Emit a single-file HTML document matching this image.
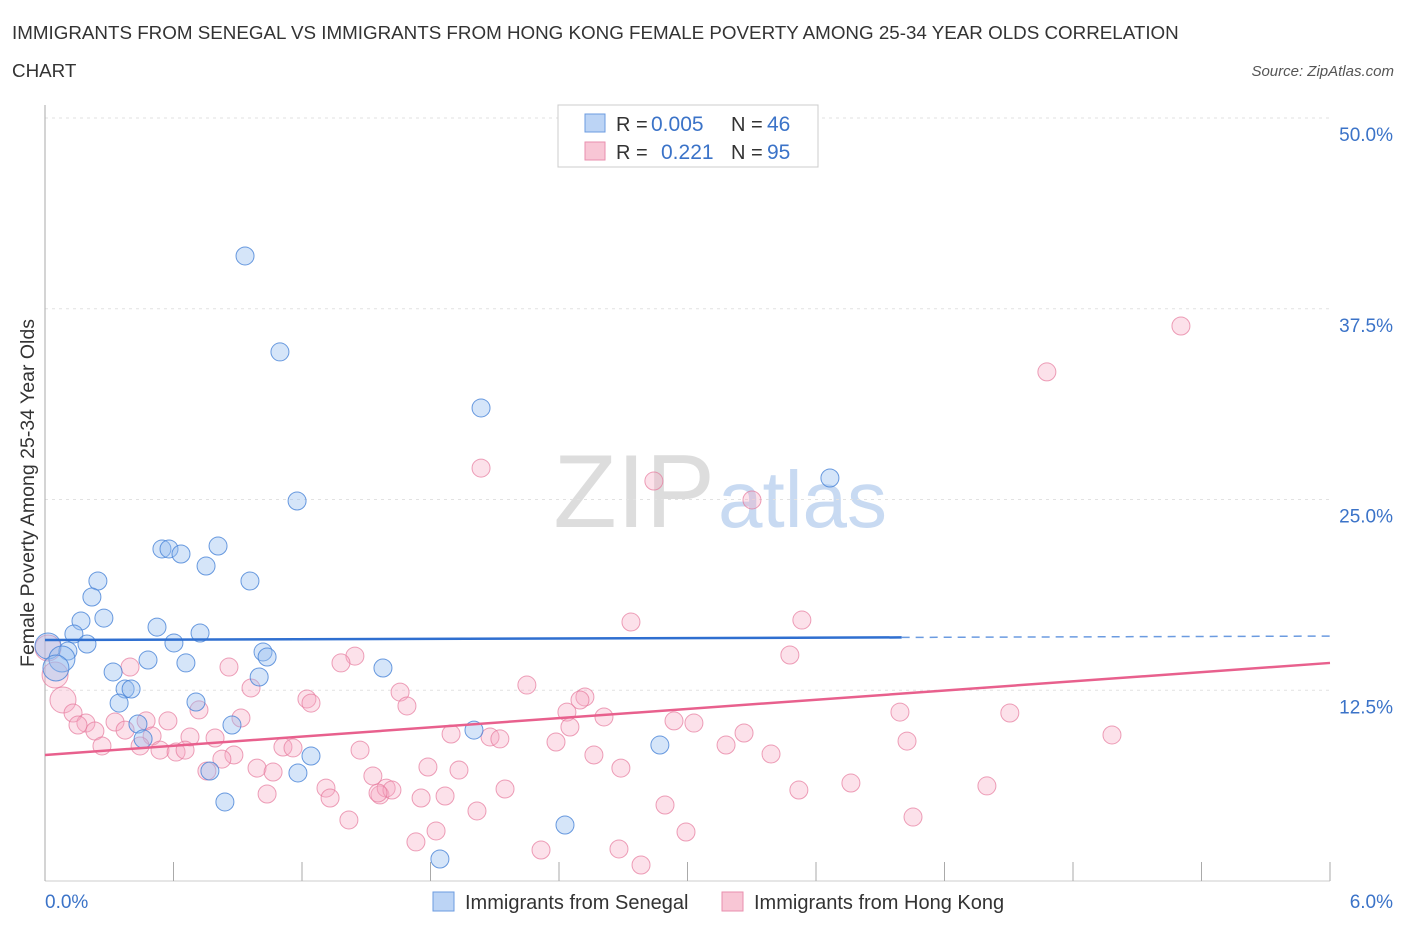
<!DOCTYPE html>
<html><head><meta charset="utf-8"><style>
body{margin:0;background:#fff;font-family:"Liberation Sans",sans-serif;}
svg text{font-family:"Liberation Sans",sans-serif;}
</style></head><body>
<svg id="chart" width="1406" height="930">
<text x="12" y="39" font-size="18.8" fill="#333">IMMIGRANTS FROM SENEGAL VS IMMIGRANTS FROM HONG KONG FEMALE POVERTY AMONG 25-34 YEAR OLDS CORRELATION</text>
<text x="12" y="77" font-size="18.8" fill="#333">CHART</text>
<text x="1394" y="76" font-size="15" fill="#555" text-anchor="end" font-style="italic">Source: ZipAtlas.com</text>
<text x="715" y="527" font-size="104" fill="#ddd" text-anchor="end" font-family="Liberation Serif">ZIP</text>
<text x="718" y="527" font-size="80" fill="#c8daf2">atlas</text>
<g id="grid"></g>
<g id="axes"></g>
<g id="pts"></g>
<g id="trend"></g>
<text transform="translate(34,493) rotate(-90)" font-size="19.5" fill="#333" text-anchor="middle">Female Poverty Among 25-34 Year Olds</text>
<text x="45" y="908" font-size="19" fill="#3b73c8">0.0%</text>
<text x="1393" y="908" font-size="19" fill="#3b73c8" text-anchor="end">6.0%</text>
<g>
<rect x="558" y="105" width="260" height="62" fill="#fff" stroke="#ccc"/>
<rect x="585" y="114" width="20" height="18" fill="#bcd4f5" stroke="#6b9be0"/>
<rect x="585" y="142" width="20" height="18" fill="#f8c6d5" stroke="#e98fae"/>
<text x="616" y="131" font-size="20" fill="#333">R =</text>
<text x="651" y="131" font-size="21" fill="#3b73c8">0.005</text>
<text x="731" y="131" font-size="20" fill="#333">N =</text>
<text x="767" y="131" font-size="21" fill="#3b73c8">46</text>
<text x="616" y="159" font-size="20" fill="#333">R =</text>
<text x="661" y="159" font-size="21" fill="#3b73c8">0.221</text>
<text x="731" y="159" font-size="20" fill="#333">N =</text>
<text x="767" y="159" font-size="21" fill="#3b73c8">95</text>
</g>
<g>
<rect x="433" y="892" width="21" height="19" fill="#bcd4f5" stroke="#6b9be0"/>
<text x="465" y="909" font-size="20" fill="#333">Immigrants from Senegal</text>
<rect x="722" y="892" width="21" height="19" fill="#f8c6d5" stroke="#e98fae"/>
<text x="754" y="909" font-size="20" fill="#333">Immigrants from Hong Kong</text>
</g>
</svg>
<script>
const yTicks=[12.5,25,37.5,50];
const yTickLabels=["12.5%","25.0%","37.5%","50.0%"];
const xTicks=[0,0.6,1.2,1.8,2.4,3,3.6,4.2,4.8,5.4,6];
const senX=[0.934,1.097,2.036,3.665,1.177,0.546,0.579,0.635,0.808,0.752,0.957,0.247,0.219,0.168,0.275,0.523,0.135,0.724,0.196,0.602,0.014,0.107,1.018,1.037,0.079,0.481,0.658,1.578,0.051,0.318,1.0,0.374,0.402,0.346,0.705,0.434,0.873,2.003,0.458,2.871,1.242,0.770,1.181,0.840,2.428,1.844];
const senY=[40.96,34.67,31.0,26.41,24.9,21.76,21.76,21.43,21.95,20.64,19.66,19.66,18.61,17.04,17.23,16.64,16.19,16.25,15.53,15.6,15.4,15.07,15.01,14.68,14.55,14.48,14.29,13.96,13.96,13.7,13.37,12.58,12.58,11.66,11.73,10.29,10.22,9.89,9.31,8.91,8.19,7.21,7.08,5.18,3.67,1.44];
const hkX=[5.304,4.678,2.036,2.843,3.301,2.736,3.534,3.478,1.447,1.382,0.397,0.859,0.047,0.962,2.25,1.658,1.223,1.242,2.521,2.498,1.69,0.084,0.131,0.719,2.437,2.61,3.992,4.505,0.191,0.154,0.327,0.472,0.574,0.915,2.937,3.03,0.233,0.374,0.5,0.677,0.794,1.896,2.078,2.124,2.451,3.264,4.025,4.982,0.266,0.444,0.537,0.612,0.654,0.882,1.111,1.158,1.471,2.386,3.18,2.563,3.39,0.826,0.756,0.99,1.065,1.788,1.933,2.689,1.531,1.312,1.037,1.331,1.564,1.593,1.62,1.555,1.756,1.868,2.148,3.52,3.763,4.398,1.419,2.017,2.895,4.053,1.826,2.993,1.732,2.316,2.68,2.783,0.014];
const hkY=[36.37,33.36,27.06,26.21,24.97,16.97,17.1,14.81,14.74,14.29,14.02,14.02,13.5,12.65,12.84,12.38,11.93,11.66,12.06,11.86,11.47,11.86,11.01,11.21,11.07,10.75,11.07,11.01,10.35,10.22,10.42,10.49,10.49,10.68,10.49,10.35,9.83,9.89,9.5,9.44,9.37,9.63,9.44,9.31,10.09,9.7,9.17,9.57,8.85,8.85,8.58,8.45,8.58,8.26,8.78,8.72,8.58,9.11,8.91,8.26,8.32,7.99,7.21,7.4,7.14,7.47,7.27,7.4,6.88,6.09,5.7,5.44,5.64,6.09,5.96,5.77,5.44,5.57,6.03,5.96,6.42,6.23,4.0,4.59,4.98,4.19,3.28,3.21,2.56,2.03,2.1,1.05,15.27];
const senTrend=[15.79,16.05];
const hkTrend=[8.26,14.29];
const NS="http://www.w3.org/2000/svg";
const X=v=>45+v/6*1285, Y=v=>881-v/50*763;
function mk(tag,attrs,parent){const e=document.createElementNS(NS,tag);for(const k in attrs)e.setAttribute(k,attrs[k]);document.getElementById(parent).appendChild(e);return e;}
yTicks.forEach((t,i)=>{
 const g=mk('line',{x1:45,x2:1330,y1:Y(t),y2:Y(t),stroke:'#e2e2e2','stroke-dasharray':'3,4'},'grid');
 
 
 const tx=mk('text',{x:1393,y:Y(t)+23,'font-size':19,fill:'#3b73c8','text-anchor':'end'},'grid');
 tx.textContent=yTickLabels[i];
 
 
});
const ax=mk('line',{x1:45,x2:45,y1:105,y2:881,stroke:'#aaa'},'axes');


const bx=mk('line',{x1:45,x2:1330,y1:881,y2:881,stroke:'#ccc'},'axes');


xTicks.forEach(t=>{
 const l=mk('line',{x1:X(t),x2:X(t),y1:862,y2:881,stroke:'#aaa'},'axes');
 
 
});
function dots(xs,ys,fill,stroke,name){
 xs.forEach((x,i)=>{
  const big=x<0.1;
  const c=mk('circle',{cx:X(x),cy:Y(ys[i]),r:big?13:9,fill:fill,stroke:stroke,'stroke-width':1},'pts');
  
  
 });
}
dots(hkX,hkY,'rgba(246,170,195,0.35)','rgba(230,120,155,0.7)','hongkong-point');
dots(senX,senY,'rgba(150,190,240,0.4)','rgba(70,130,215,0.8)','senegal-point');
const s1=mk('line',{x1:X(0),y1:Y(senTrend[0]),x2:X(4),y2:Y(senTrend[0]+(senTrend[1]-senTrend[0])*4/6),stroke:'#2f6fd0','stroke-width':2.5},'trend');


const s2=mk('line',{x1:X(4),y1:Y(senTrend[0]+(senTrend[1]-senTrend[0])*4/6),x2:X(6),y2:Y(senTrend[1]),stroke:'#6b9be0','stroke-width':1.5,'stroke-dasharray':'8,6'},'trend');


const h=mk('line',{x1:X(0),y1:Y(hkTrend[0]),x2:X(6),y2:Y(hkTrend[1]),stroke:'#e8608d','stroke-width':2.5},'trend');


</script>
</body></html>
